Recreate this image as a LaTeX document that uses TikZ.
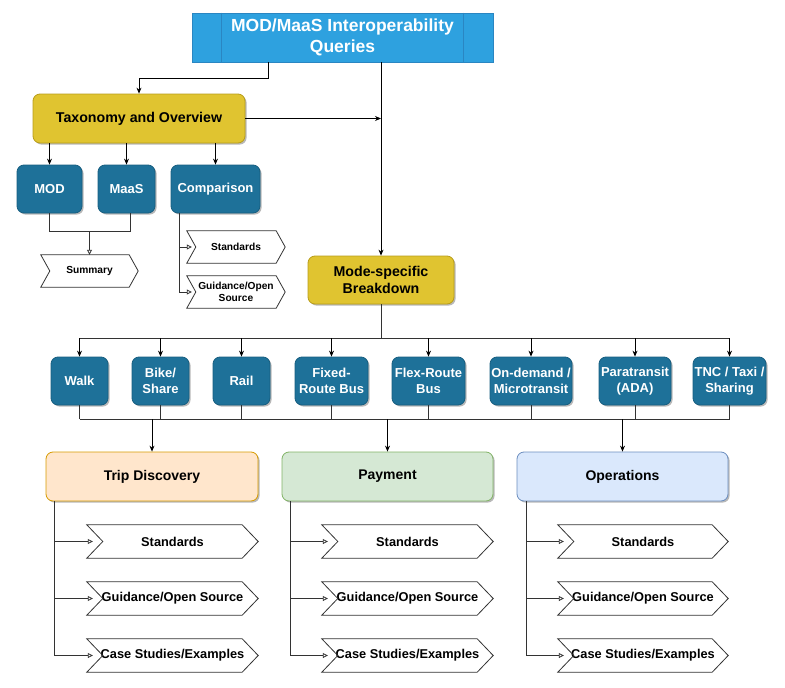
\documentclass[tikz,border=0pt]{standalone}
\usepackage{fontspec}
\setmainfont{Liberation Sans}
\usetikzlibrary{arrows.meta,shadows}
\definecolor{topblue}{HTML}{2EA1DF}
\definecolor{topline}{HTML}{2A86C2}
\definecolor{tealfill}{HTML}{1E7199}
\definecolor{tealline}{HTML}{175E80}
\definecolor{yelfill}{HTML}{E0C430}
\definecolor{yelline}{HTML}{B89D1A}
\definecolor{orfill}{HTML}{FFE6CC}
\definecolor{orline}{HTML}{D79B00}
\definecolor{grfill}{HTML}{D5E8D4}
\definecolor{grline}{HTML}{82B366}
\definecolor{blfill}{HTML}{DAE8FC}
\definecolor{blline}{HTML}{6C8EBF}
\definecolor{lineg}{HTML}{333333}
\definecolor{lineh}{HTML}{555555}
\newcommand\chevout[2]{\draw[chevline] (#1.north west) -- ([xshift=-#2]#1.north east) -- (#1.east) -- ([xshift=-#2]#1.south east) -- (#1.south west) -- ([xshift=#2]#1.west) -- cycle;}
\begin{document}
\begin{tikzpicture}[x=1pt,y=-1pt,
  shad/.style={drop shadow={shadow xshift=1.6pt,shadow yshift=-1.6pt,opacity=.28,fill=black}},
  basebox/.style={rectangle,inner sep=1pt,align=center,line width=0.8pt},
  rbox/.style={basebox,rounded corners=7pt,shad},
  tealbox/.style={rbox,fill=tealfill,draw=tealline,text=white,font=\bfseries\fontsize{13}{15.5}\selectfont},
  yelbox/.style={rbox,fill=yelfill,draw=yelline,text=black,font=\bfseries\fontsize{14.2}{17}\selectfont},
  catbox/.style={rbox,minimum width=211pt,minimum height=49pt,text=black,font=\bfseries\fontsize{14}{17}\selectfont},
  chevbox/.style={rectangle,inner sep=0pt,align=center,minimum height=33pt,minimum width=171pt,font=\bfseries\fontsize{12.8}{15}\selectfont},
  smallchev/.style={rectangle,inner sep=0pt,align=center,minimum height=32pt,minimum width=98pt,font=\bfseries\fontsize{10.2}{12.5}\selectfont},
  chevline/.style={draw=lineg,line width=0.8pt},
  conn/.style={draw=black,line width=0.8pt,-{Stealth[length=6pt,width=5pt]}},
  plainline/.style={draw=lineg,line width=0.8pt},
  oarrow/.style={draw=lineg,line width=0.8pt,-{Triangle[open,length=5pt,width=5pt]}},
]
\useasboundingbox (0,0) rectangle (785,688);

% top
\node[basebox,fill=topblue,draw=topline,text=white,minimum width=301pt,minimum height=49pt,
  font=\bfseries\fontsize{17.5}{21}\selectfont] (top) at (342.5,37.5) {MOD/MaaS Interoperability\\Queries};
\draw[topline,line width=0.8pt] ([xshift=30pt]top.north west) -- ([xshift=30pt]top.south west);
\draw[topline,line width=0.8pt] ([xshift=-30pt]top.north east) -- ([xshift=-30pt]top.south east);

% taxonomy
\node[yelbox,minimum width=212pt,minimum height=49pt] (tax) at (139,118.5) {Taxonomy and Overview};
\node[tealbox,minimum width=65pt,minimum height=48pt] (mod) at (49.5,189) {MOD};
\node[tealbox,minimum width=57pt,minimum height=48pt] (maas) at (126.5,189) {MaaS};
\node[tealbox,minimum width=89pt,minimum height=48pt] (comp) at (215.5,189) {Comparison};
\node[smallchev,minimum width=97pt] (summ) at (89.5,271) {Summary};
\node[smallchev] (stds) at (236,247) {Standards};
\node[smallchev] (guids) at (236,292) {Guidance/Open\\Source};
\chevout{summ}{9pt}
\chevout{stds}{9pt}
\chevout{guids}{9pt}

% mode specific
\node[yelbox,minimum width=146pt,minimum height=48pt] (ms) at (381,280) {Mode-specific\\Breakdown};

% modes
\node[tealbox,minimum width=57pt,minimum height=48pt] (walk) at (79.5,381) {Walk};
\node[tealbox,minimum width=57pt,minimum height=48pt] (bike) at (160.5,381) {Bike/\\Share};
\node[tealbox,minimum width=57pt,minimum height=48pt] (rail) at (241.5,381) {Rail};
\node[tealbox,minimum width=73pt,minimum height=48pt] (fixed) at (331.5,381) {Fixed-\\Route Bus};
\node[tealbox,minimum width=73pt,minimum height=48pt] (flex) at (428.5,381) {Flex-Route\\Bus};
\node[tealbox,minimum width=82pt,minimum height=48pt] (ondem) at (531,381) {On-demand /\\Microtransit};
\node[tealbox,minimum width=72pt,minimum height=48pt] (para) at (635,381) {Paratransit\\(ADA)};
\node[tealbox,minimum width=73pt,minimum height=48pt] (tnc) at (729.5,381) {TNC / Taxi /\\Sharing};

% categories
\node[catbox,fill=orfill,draw=orline,minimum width=212pt] (trip) at (152,476.5) {Trip Discovery};
\node[catbox,fill=grfill,draw=grline] (pay) at (387.5,476.5) {Payment};
\node[catbox,fill=blfill,draw=blline] (ops) at (622.5,476.5) {Operations};

\node[chevbox] (t1) at (172.5,541.5) {Standards};
\node[chevbox] (t2) at (172.5,598.5) {Guidance/Open Source};
\node[chevbox] (t3) at (172.5,655.5) {Case Studies/Examples};
\node[chevbox] (p1) at (407.5,541.5) {Standards};
\node[chevbox] (p2) at (407.5,598.5) {Guidance/Open Source};
\node[chevbox] (p3) at (407.5,655.5) {Case Studies/Examples};
\node[chevbox,minimum width=170pt] (o1) at (643,541.5) {Standards};
\node[chevbox,minimum width=170pt] (o2) at (643,598.5) {Guidance/Open Source};
\node[chevbox,minimum width=170pt] (o3) at (643,655.5) {Case Studies/Examples};
\foreach \c in {t1,t2,t3,p1,p2,p3,o1,o2,o3} {\chevout{\c}{16pt}}

% connectors top
\draw[conn] ([xshift=-74.5pt]top.south) -- ++(0,16) -| (tax.north);
\draw[conn] ([xshift=38.5pt]top.south) -- (ms.north);
\draw[conn] (tax.east) -- (tax.east -| ms.north);
\foreach \b in {mod,maas,comp} {\draw[conn] (tax.south -| \b.north) -- (\b.north);}

% summary
\coordinate (sj) at (89.5,231);
\draw[plainline] (mod.south) |- ([xshift=3.5pt]maas.south |- sj) -- ([xshift=3.5pt]maas.south);
\draw[oarrow] (sj) -- (summ.north);
\draw[oarrow] ([xshift=-36.5pt]comp.south) |- ([xshift=5pt]stds.west);
\draw[oarrow] ([xshift=-36.5pt]comp.south) |- ([xshift=5pt]guids.west);

% modes
\coordinate (mj) at (381,338);
\draw[plainline] (ms.south) -- (mj);
\draw[plainline] (walk.north |- mj) -- (tnc.north |- mj);
\foreach \m in {walk,bike,rail,fixed,flex,ondem,para,tnc} {\draw[conn] (\m.north |- mj) -- (\m.north);}
\coordinate (bj) at (381,419);
\foreach \m in {walk,bike,rail,fixed,flex,ondem,para,tnc} {\draw[plainline] (\m.south) -- (\m.south |- bj);}
\draw[plainline] (walk.south |- bj) -- (tnc.south |- bj);
\foreach \k in {trip,pay,ops} {\draw[conn] (\k.north |- bj) -- (\k.north);}

% category branches
\foreach \c in {t1,t2,t3} {\draw[oarrow] ([xshift=-98pt]trip.south) |- ([xshift=6pt]\c.west);}
\foreach \c in {p1,p2,p3} {\draw[oarrow] ([xshift=-97.5pt]pay.south) |- ([xshift=6pt]\c.west);}
\foreach \c in {o1,o2,o3} {\draw[oarrow] ([xshift=-96.5pt]ops.south) |- ([xshift=6pt]\c.west);}
\end{tikzpicture}
\end{document}
